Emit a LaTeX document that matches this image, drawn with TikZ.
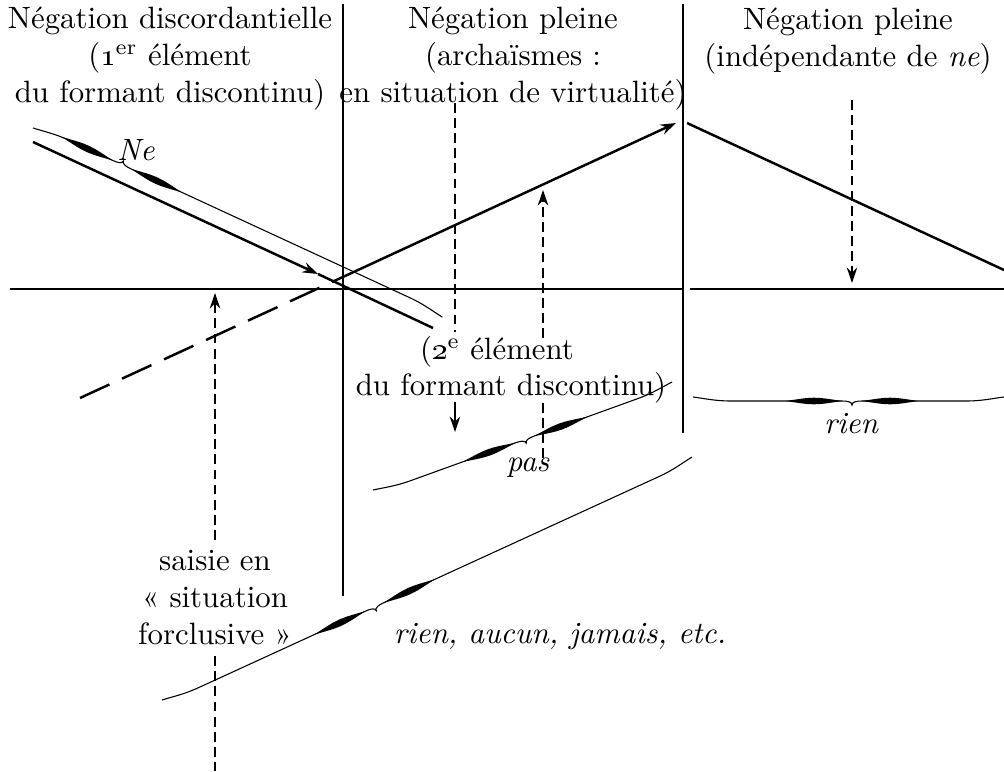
\documentclass[tikz,border=0pt]{standalone}
\usepackage{tikz}
\usetikzlibrary{arrows.meta, calc, positioning}

\tikzset{
  gline/.style={line width=0.8pt},
  sepline/.style={line width=0.5pt},
  dashline/.style={line width=0.5pt, dash pattern=on 3.2pt off 1.7pt},
  longdash/.style={line width=0.8pt, dash pattern=on 10.5pt off 4.5pt},
  tip/.style={-{Stealth[length=5pt,width=3.4pt]}},
  pics/tbrace/.style args={#1/#2}{code={
    \draw[line width=0.35pt] (0,0) .. controls (12,-1.5) and (22,-4) .. (38,-4)
      -- ({#2-10},-4) .. controls ({#2-4},-4) and (#2,-5) .. (#2,-8)
      .. controls (#2,-5) and ({#2+4},-4) .. ({#2+10},-4)
      -- ({#1-38},-4) .. controls ({#1-22},-4) and ({#1-12},-1.5) .. (#1,0);
    \fill ({#2-66},-4) .. controls ({#2-38},-8.4) .. ({#2-10},-4)
      .. controls ({#2-38},0.4) .. cycle;
    \fill ({#2+10},-4) .. controls ({#2+38},-8.4) .. ({#2+66},-4)
      .. controls ({#2+38},0.4) .. cycle;
  }}
}

\begin{document}
\begin{tikzpicture}[x=0.0114cm, y=-0.0114cm]
\useasboundingbox (0,0) rectangle (1004,771);

% Column separators and axis
\coordinate (v1-top) at (343,4);
\coordinate (v1-bot) at (343,596);
\coordinate (v2-top) at (683,4);
\coordinate (v2-bot) at (683,433);
\coordinate (ax-left) at (10,289);
\coordinate (ax-v2) at (683,289);
\coordinate (ax-gap) at (690,289);
\coordinate (ax-right) at (1004,289);

\draw[sepline] (v1-top) -- (v1-bot);
\draw[sepline] (v2-top) -- (v2-bot);
\draw[line width=0.6pt] (ax-left) -- (ax-v2);
\draw[line width=0.6pt] (ax-gap) -- (ax-right);

% Movement lines
\coordinate (ne-start) at (33,142);
\coordinate (ne-hit) at (318,274);
\coordinate (ne-end) at (433,328);
\coordinate (up-start) at (80,398);
\coordinate (up-break) at (345,276);
\coordinate (up-tip) at (676,123);
\coordinate (down-start) at (687,123);
\coordinate (down-end) at (1004,270);

\draw[gline, tip] (ne-start) -- (ne-hit);
\draw[gline] (ne-hit) -- (ne-end);
\draw[longdash] (up-start) -- (up-break);
\draw[gline, tip] (up-break) -- (up-tip);
\draw[gline] (down-start) -- (down-end);

% Column titles
\node[align=center] (col1) at (170,59)
  {Négation discordantielle\\(\oldstylenums{1}\textsuperscript{er} élément\\du formant discontinu)};
\node[align=center] (col2) at (513,59)
  {Négation pleine\\(archaïsmes~:\\en situation de virtualité)};
\node[align=center] (col3) at (848,41)
  {Négation pleine\\(indépendante de \textit{ne})};

% Labels
\node (elem2a) at (497,352) {(\oldstylenums{2}\textsuperscript{e} élément};
\node (elem2b) at (511,388) {du formant discontinu)};
\node[align=center] (saisie) at (215,598) {saisie en\\«~situation\\forclusive~»};
\node[font=\itshape] (ne) at (136,150) {Ne};
\node[font=\itshape] (pas) at (528,468) {pas};
\node[font=\itshape] (rien) at (851,424) {rien};
\node[font=\itshape] (liste) at (560,637) {rien, aucun, jamais, etc.};

% Dashed seizures
\coordinate (d1-tip) at (215,293);
\coordinate (d1-bot) at (215,771);
\coordinate (d2-top) at (455,103);
\coordinate (d2-end) at (455,332);
\coordinate (d2-from) at (455,402);
\coordinate (d2-tip) at (455,432);
\coordinate (d3-from) at (543,338);
\coordinate (d3-tip) at (543,190);
\coordinate (d3-low) at (543,403);
\coordinate (d3-pas) at (543,462);
\coordinate (d4-top) at (852,100);
\coordinate (d4-tip) at (852,283);

\draw[dashline, tip] (saisie.north) -- (d1-tip);
\draw[dashline] (saisie.south) -- (d1-bot);
\draw[dashline] (d2-top) -- (d2-end);
\draw[line width=0.5pt, tip] (d2-from) -- (d2-tip);
\draw[dashline, tip] (d3-from) -- (d3-tip);
\draw[dashline] (d3-low) -- (d3-pas);
\draw[dashline, tip] (d4-top) -- (d4-tip);

% Braces
\pic[rotate=-24.8] at (33,128) {tbrace=451/96};
\pic[yscale=-1] at (693,397) {tbrace=311/159};
\pic[rotate=19.86, yscale=-1] at (373,490) {tbrace=318/160};
\pic[rotate=24.63, yscale=-1] at (162,700) {tbrace=583/232};
\end{tikzpicture}
\end{document}
